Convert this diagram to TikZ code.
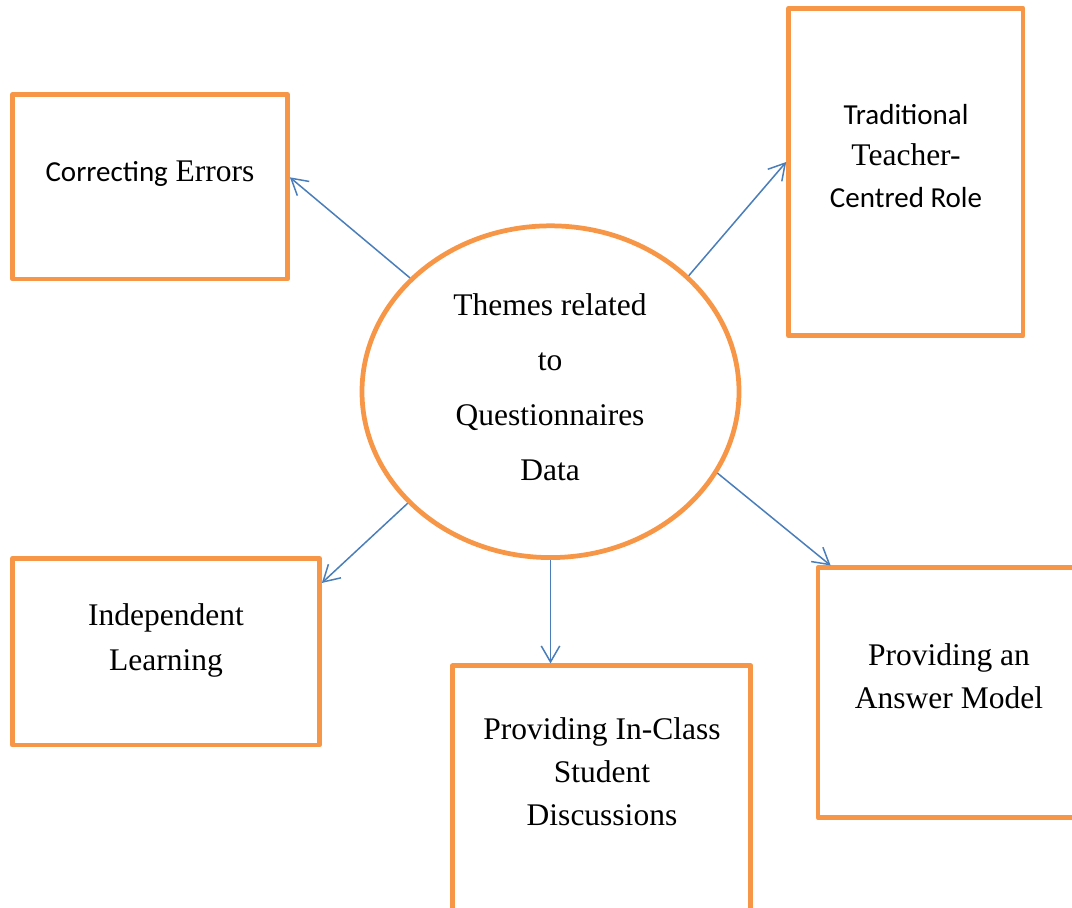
\documentclass[tikz,border=0pt]{standalone}
\usepackage{fontspec}
\setmainfont{Liberation Serif}
\newfontfamily\calibrifont{Carlito}
\usetikzlibrary{arrows.meta,calc,shapes.geometric}
\definecolor{boxorange}{HTML}{F79646}
\definecolor{arrowblue}{HTML}{4A7EBB}
\newcommand{\sanspart}[1]{{\calibrifont\fontsize{11.6}{16}\selectfont #1}}
\begin{document}
\begin{tikzpicture}[x=0.4pt,y=-0.4pt,
		themebox/.style={draw=boxorange,line width=1.9pt,line join=round,inner sep=0pt},
		themetext/.style={align=center,font=\fontsize{12.6}{17.2}\selectfont},
		link/.style={draw=arrowblue,line width=0.6pt,-{Straight Barb[length=6.4pt,width=7.4pt]}}]
				\clip (0,0) rectangle (1072,907);
				% centre
				\node[themebox,ellipse,minimum width=150.8pt,minimum height=132.7pt] (theme) at (550.5,391.7) {};
				\node[themetext,font=\fontsize{12.6}{22}\selectfont] (theme-text) at (550,387) {Themes related\\to\\Questionnaires\\Data};
				% boxes
				\node[themebox,minimum width=110pt,minimum height=73.8pt] (ce) at (150,186.8) {};
				\node[themebox,minimum width=93.8pt,minimum height=131pt] (tt) at (905.8,172) {};
				\node[themebox,minimum width=122.8pt,minimum height=74.7pt] (il) at (166,651.7) {};
				\node[themebox,minimum width=119.3pt,minimum height=133.7pt] (pic) at (601.7,832.9) {};
				\node[themebox,minimum width=116.8pt,minimum height=99.9pt] (pam) at (964,692.7) {};
				% texts
				\node[themetext] (ce-text) at (150,173.5) {\sanspart{Correcting} Errors};
				\node[themetext,font=\fontsize{12.6}{16.6}\selectfont] (tt-text) at (906,156) {\sanspart{Traditional}\\Teacher-\\\sanspart{Centred Role}};
				\node[themetext,font=\fontsize{12.6}{18}\selectfont] (il-text) at (166,640) {Independent\\Learning};
				\node[themetext] (pic-text) at (602,772) {Providing In-Class\\Student\\Discussions};
				\node[themetext] (pam-text) at (949,676) {Providing an\\Answer Model};
				% links
				\draw[link] (theme.141.8) -- ($(ce.east)+(0,-9.5)$);
				\draw[link] (theme.40.3) -- ($(tt.west)+(0,-10)$);
				\draw[link] (theme.218.2) -- ($(il.north east)+(0,27)$);
				\draw[link] (theme.south) -- (theme.south |- pic.north);
				\draw[link] (theme.334.4) -- ($(pam.north west)+(15,0)$);
			\end{tikzpicture}
\end{document}
